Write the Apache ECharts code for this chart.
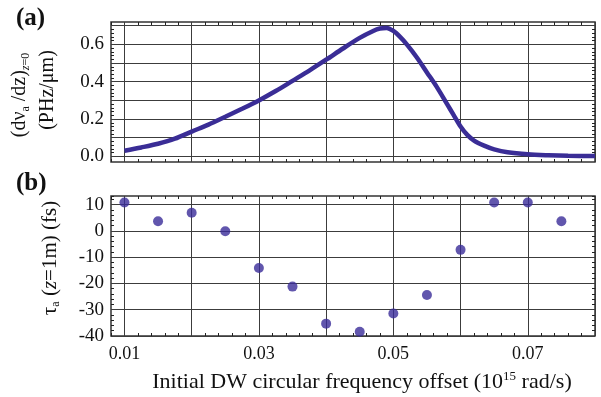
<!DOCTYPE html>
<html>
<head>
<meta charset="utf-8">
<script src="https://cdn.jsdelivr.net/npm/echarts@6/dist/echarts.min.js"></script>
<style>html,body{margin:0;padding:0;background:#fff}#c{width:601px;height:397px}</style>
</head>
<body>
<div id="c"></div>
<script>
// ---- data ----
const curveX = [0.010, 0.0125, 0.015, 0.0175, 0.020, 0.0225, 0.025, 0.0275, 0.030, 0.0325, 0.035, 0.0375, 0.040, 0.0425, 0.045, 0.047, 0.048, 0.049, 0.050, 0.051, 0.052, 0.0535, 0.055, 0.0565, 0.058, 0.059, 0.060, 0.061, 0.062, 0.0635, 0.065, 0.067, 0.070, 0.073, 0.076, 0.080];
const curveY = [0.030, 0.048, 0.068, 0.095, 0.133, 0.170, 0.212, 0.255, 0.300, 0.350, 0.405, 0.460, 0.518, 0.578, 0.635, 0.672, 0.685, 0.688, 0.672, 0.640, 0.600, 0.530, 0.450, 0.370, 0.280, 0.220, 0.160, 0.115, 0.085, 0.058, 0.038, 0.022, 0.011, 0.006, 0.003, 0.002];
const dotX = [0.010, 0.015, 0.020, 0.025, 0.030, 0.035, 0.040, 0.045, 0.050, 0.055, 0.060, 0.065, 0.070, 0.075];
const dotY = [10.8, 3.7, 6.9, -0.1, -14.1, -21.2, -35.3, -38.4, -31.4, -24.4, -7.2, 10.8, 10.8, 3.7];
const xGridValues = [0.01, 0.02, 0.03, 0.04, 0.05, 0.06, 0.07, 0.08];
const xTickLabels = ['0.01', '0.03', '0.05', '0.07'];
const topGridValues = [0, 0.1, 0.2, 0.3, 0.4, 0.5, 0.6, 0.7];
const topTickLabels = ['0.0', '0.2', '0.4', '0.6'];
const botGridValues = [10, 0, -10, -20, -30, -40];
const botTickLabels = ['10', '0', '-10', '-20', '-30', '-40'];

// ---- axis ranges ----
const X_MIN = 0.008, X_MAX = 0.08;
const TOP_MIN = -0.03, TOP_MAX = 0.72;
const BOT_MIN = -40, BOT_MAX = 13.3;
const TOP_TICK_MIN = 0, TOP_TICK_MAX = 0.7, TOP_TICK_STEP = 0.02;

// ---- style ----
const SERIF = '"Liberation Serif", "DejaVu Serif", serif';
const LINE_COLOR = '#3a2d96';
const DOT_COLOR = '#3a2c99';
const GRID_COLOR = '#3c3c3c';
const XLABEL_SIZE = 18;
const YLABEL_SIZE = 19;

const chart = echarts.init(document.getElementById('c'), null, {renderer: 'canvas'});

const G0 = {left: 111, top: 22, width: 484, height: 140};
const G1 = {left: 111, top: 196, width: 484, height: 140};
// overlay grid covering the 0..0.7 band of the top panel (for its minor ticks)
const topSpan = TOP_MAX - TOP_MIN;
const G2 = {
  left: G0.left, width: G0.width,
  top: G0.top + G0.height * (TOP_MAX - TOP_TICK_MAX) / topSpan,
  height: G0.height * (TOP_TICK_MAX - TOP_TICK_MIN) / topSpan
};

const tickStyle = {color: '#222', width: 1};

function xAx(grid, pos, labels) {
  return {
    type: 'value', gridIndex: grid, position: pos, min: X_MIN, max: X_MAX, interval: 0.002,
    axisLine: {show: false, onZero: false},
    axisTick: {show: true, inside: true, length: 3, lineStyle: tickStyle},
    splitLine: {show: false},
    axisLabel: labels ? {
      show: true, margin: 9, color: '#111', fontFamily: SERIF, fontSize: XLABEL_SIZE,
      formatter: function (v) {
        const k = Math.round(v * 1000);
        if (Math.abs(v * 1000 - k) > 1e-6 || k % 10 !== 0) return '';
        const s = (k / 1000).toFixed(2);
        return xTickLabels.indexOf(s) >= 0 ? s : '';
      }
    } : {show: false}
  };
}

function tickY(pos) {
  return {
    type: 'value', gridIndex: 2, position: pos, min: TOP_TICK_MIN, max: TOP_TICK_MAX, interval: TOP_TICK_STEP,
    axisLine: {show: false, onZero: false}, splitLine: {show: false},
    axisTick: {show: true, inside: true, length: 3, lineStyle: tickStyle},
    axisLabel: {show: false}
  };
}

function botY(pos, withLabels) {
  return {
    type: 'value', gridIndex: 1, position: pos, min: BOT_MIN, max: BOT_MAX, interval: 2,
    axisLine: {show: false, onZero: false}, splitLine: {show: false},
    axisTick: {show: true, inside: true, length: 3, lineStyle: tickStyle},
    axisLabel: withLabels ? {show: true, margin: 7, color: '#111', fontFamily: SERIF, fontSize: YLABEL_SIZE,
      formatter: function (v) {
        const r = Math.round(v);
        const i = botGridValues.indexOf(r);
        return (i >= 0 && Math.abs(v - r) < 1e-6) ? botTickLabels[i] : '';
      }} : {show: false}
  };
}

const gridMarkStyle = {silent: true, symbol: 'none', label: {show: false}, animation: false, z: 1,
  lineStyle: {color: GRID_COLOR, width: 1, type: 'solid'}};

const textGraphics = [
  {id: 'ta', type: 'text', left: 16, top: 6, style: {text: '(a)', font: 'bold 25px ' + SERIF, fill: '#111'}},
  {id: 'tb', type: 'text', left: 16, top: 171, style: {text: '(b)', font: 'bold 25px ' + SERIF, fill: '#111'}},
  {
    id: 'ytop1', type: 'text', x: 20, y: 95, rotation: Math.PI / 2,
    style: {
      text: '{n|(dν}{s|a}{n| /dz)}{i|z}{s|=0}',
      align: 'center', verticalAlign: 'middle', fill: '#111', fontFamily: SERIF,
      rich: {
        n: {fontSize: 20, fontFamily: SERIF, fill: '#111'},
        s: {fontSize: 12, fontFamily: SERIF, fill: '#111', padding: [11, 0, 0, 0]},
        i: {fontSize: 12, fontFamily: SERIF, fontStyle: 'italic', fill: '#111', padding: [11, 0, 0, 0]}
      }
    }
  },
  {
    id: 'ytop2', type: 'text', x: 48, y: 90, rotation: Math.PI / 2,
    style: {text: '(PHz/μm)', align: 'center', verticalAlign: 'middle', font: '20px ' + SERIF, fill: '#111'}
  },
  {
    id: 'ybot', type: 'text', x: 50, y: 258, rotation: Math.PI / 2,
    style: {
      text: '{n|τ}{s|a}{n| (}{i|z}{n|=1m) (fs)}',
      align: 'center', verticalAlign: 'middle', fill: '#111', fontFamily: SERIF,
      rich: {
        n: {fontSize: 21, fontFamily: SERIF, fill: '#111'},
        s: {fontSize: 12, fontFamily: SERIF, fill: '#111', padding: [11, 0, 0, 0]},
        i: {fontSize: 21, fontFamily: SERIF, fontStyle: 'italic', fill: '#111'}
      }
    }
  },
  {
    id: 'xt', type: 'text', x: 362, y: 382,
    style: {
      text: '{n|Initial DW circular frequency offset (10}{p|15}{n| rad/s)}',
      align: 'center', verticalAlign: 'middle', fill: '#111', fontFamily: SERIF,
      rich: {
        n: {fontSize: 22, fontFamily: SERIF, fill: '#111'},
        p: {fontSize: 13, fontFamily: SERIF, fill: '#111', padding: [0, 0, 10, 0]}
      }
    }
  }
];

const option = {
  animation: false,
  backgroundColor: '#fff',
  grid: [
    Object.assign({show: true, borderColor: '#333', borderWidth: 1.5, backgroundColor: 'transparent'}, G0),
    Object.assign({show: true, borderColor: '#333', borderWidth: 1.5, backgroundColor: 'transparent'}, G1),
    Object.assign({show: false}, G2)
  ],
  xAxis: [
    xAx(0, 'bottom', false), xAx(0, 'top', false),
    xAx(1, 'bottom', true), xAx(1, 'top', false),
    {type: 'value', gridIndex: 2, min: X_MIN, max: X_MAX, show: false}
  ],
  yAxis: [
    // 0: series axis for top panel (labels only, no ticks)
    {
      type: 'value', gridIndex: 0, position: 'left', min: TOP_MIN, max: TOP_MAX, interval: 0.01,
      axisLine: {show: false, onZero: false}, splitLine: {show: false}, axisTick: {show: false},
      axisLabel: {show: true, margin: 7, color: '#111', fontFamily: SERIF, fontSize: YLABEL_SIZE,
        formatter: function (v) {
          const k = Math.round(v * 100);
          if (Math.abs(v * 100 - k) > 1e-6 || k < 0 || k % 20 !== 0) return '';
          return topTickLabels[k / 20] || '';
        }}
    },
    tickY('left'),
    tickY('right'),
    botY('left', true),
    botY('right', false)
  ],
  series: [
    {
      type: 'line', xAxisIndex: 0, yAxisIndex: 0, z: 3,
      data: curveX.map((x, i) => [x, curveY[i]]),
      smooth: 0.3, showSymbol: false, symbol: 'none',
      lineStyle: {color: LINE_COLOR, width: 4.5},
      markLine: Object.assign({}, gridMarkStyle, {
        data: xGridValues.map(v => ({xAxis: v}))})
    },
    {
      type: 'scatter', xAxisIndex: 2, yAxisIndex: 3, z: 3,
      data: dotX.map((x, i) => [x, dotY[i]]),
      symbol: 'circle', symbolSize: 10,
      itemStyle: {color: DOT_COLOR},
      markLine: Object.assign({}, gridMarkStyle, {
        data: xGridValues.map(v => ({xAxis: v})).concat(botGridValues.map(v => ({yAxis: v})))})
    }
  ],
  graphic: textGraphics
};
chart.setOption(option);

// Horizontal grid lines of the top panel: thin filled rectangles whose rows come
// from the chart's own y scale (convertToPixel on the top panel's axes).
const topGridRects = topGridValues.map(function (v, i) {
  const pL = chart.convertToPixel({xAxisIndex: 0, yAxisIndex: 0}, [X_MIN, v]);
  const pR = chart.convertToPixel({xAxisIndex: 0, yAxisIndex: 0}, [X_MAX, v]);
  const row = Math.round(pL[1] - 0.5);
  return {
    id: 'hgrid' + i, type: 'rect', z: 1, silent: true,
    shape: {x: pL[0], y: row, width: pR[0] - pL[0], height: 1},
    style: {fill: GRID_COLOR}
  };
});
chart.setOption({graphic: textGraphics.concat(topGridRects)});
</script>
</body>
</html>
